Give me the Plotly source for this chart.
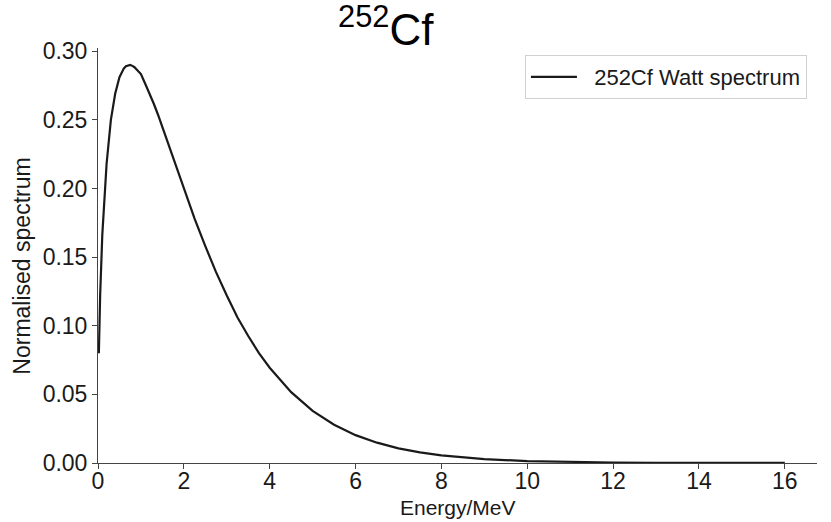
import plotly.graph_objects as go

# Energy grid (MeV) and normalised spectrum values
energy_mev = [0.02, 0.05, 0.10, 0.15, 0.20, 0.30, 0.40, 0.50, 0.60, 0.65, 0.70, 0.75,
              0.80, 0.85, 0.90, 1.00, 1.10, 1.20, 1.30, 1.40, 1.60, 1.80, 2.00, 2.25,
              2.50, 2.75, 3.00, 3.25, 3.50, 3.75, 4.00, 4.50, 5.00, 5.50, 6.00, 6.50,
              7.00, 7.50, 8.00, 9.00, 10.0, 11.0, 12.0, 13.0, 14.0, 15.0, 16.0]
spectrum = [0.080, 0.122, 0.166, 0.196, 0.218, 0.250, 0.269, 0.281, 0.2873, 0.289, 0.2898, 0.2900,
            0.2893, 0.2883, 0.2866, 0.2833, 0.2763, 0.2694, 0.2617, 0.2535, 0.236, 0.218, 0.200, 0.178,
            0.158, 0.139, 0.122, 0.106, 0.0925, 0.080, 0.0694, 0.0516, 0.038, 0.0279, 0.0203, 0.0148,
            0.0107, 0.0077, 0.0055, 0.0028, 0.0014, 0.0007, 0.00036, 0.00018, 0.00009, 0.00004, 0.00002]

series_name = "252Cf Watt spectrum"
x_ticks = [0, 2, 4, 6, 8, 10, 12, 14, 16]
y_ticks = [0.00, 0.05, 0.10, 0.15, 0.20, 0.25, 0.30]
x_title = "Energy/MeV"
y_title = "Normalised spectrum"
chart_title = "<sup>252</sup>Cf"

FONT = "Liberation Sans, Arial, Helvetica, sans-serif"

fig = go.Figure()
fig.add_trace(go.Scatter(
    x=energy_mev, y=spectrum, mode="lines",
    name="\u00a0\u00a0" + series_name,
    line=dict(color="#1a1a1a", width=2.2),
))

axis_common = dict(
    showline=True, linecolor="#444444", linewidth=1,
    ticks="outside", ticklen=5, tickwidth=1, tickcolor="#444444",
    showgrid=False, zeroline=False, mirror=False,
    tickfont=dict(family=FONT, size=23, color="#1a1a1a"),
)

fig.update_layout(
    width=831, height=522,
    margin=dict(l=98, r=14, t=48, b=59),
    paper_bgcolor="white", plot_bgcolor="white",
    font=dict(family=FONT, color="#1a1a1a"),
    showlegend=True,
    legend=dict(
        x=0.986, y=0.983, xanchor="right", yanchor="top",
        bgcolor="white", bordercolor="#d0d0d0", borderwidth=1,
        font=dict(family=FONT, size=22, color="#1a1a1a"),
        itemwidth=46,
    ),
    annotations=[
        dict(text=chart_title, xref="paper", yref="paper",
             x=0.401, y=1.052, xanchor="center", yanchor="middle",
             showarrow=False, font=dict(family=FONT, size=44, color="black")),
        dict(text=x_title, xref="paper", yref="paper",
             x=0.5, y=-0.107, xanchor="center", yanchor="middle",
             showarrow=False, font=dict(family=FONT, size=21, color="#1a1a1a")),
        dict(text=y_title, xref="paper", yref="paper", textangle=-90,
             x=-0.106, y=0.475, xanchor="center", yanchor="middle",
             showarrow=False, font=dict(family=FONT, size=23, color="#1a1a1a")),
    ],
)

fig.update_xaxes(
    range=[0, 16.75], tickvals=x_ticks, ticktext=[str(v) for v in x_ticks],
    ticklabelstandoff=-8,
    **axis_common,
)
fig.update_yaxes(
    range=[0, 0.3023], tickvals=y_ticks, tickformat=".2f",
    **axis_common,
)

fig.write_html("out.html")
